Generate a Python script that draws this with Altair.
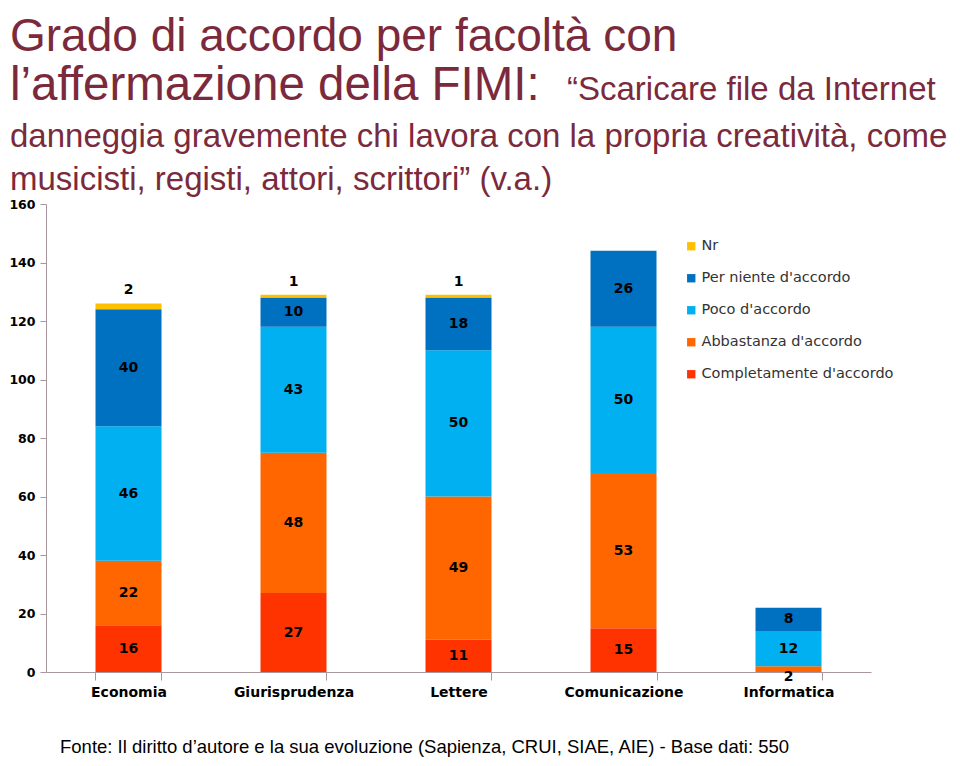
import altair as alt
import pandas as pd

# ---- data ----
facolta = ["Economia", "Giurisprudenza", "Lettere", "Comunicazione", "Informatica"]
risposte = ["Completamente d'accordo", "Abbastanza d'accordo", "Poco d'accordo",
            "Per niente d'accordo", "Nr"]
completamente = [16, 27, 11, 15, 0]
abbastanza = [22, 48, 49, 53, 2]
poco = [46, 43, 50, 50, 12]
per_niente = [40, 10, 18, 26, 8]
nr = [2, 1, 1, 0, 0]
colori = ["#FF3300", "#FF6600", "#00B0F0", "#0070C0", "#FFC000"]
y_ticks = [0, 20, 40, 60, 80, 100, 120, 140, 160]

titolo_1 = "Grado di accordo per facoltà con"
titolo_2a = "l\u2019affermazione della FIMI:"
titolo_2b = "\u201cScaricare file da Internet"
titolo_3 = "danneggia gravemente chi lavora con la propria creatività, come"
titolo_4 = "musicisti, registi, attori, scrittori\u201d (v.a.)"
fonte = "Fonte: Il diritto d\u2019autore e la sua evoluzione (Sapienza, CRUI, SIAE, AIE) - Base dati: 550"

serie = [completamente, abbastanza, poco, per_niente, nr]
rows = []
for i, f in enumerate(facolta):
    for k, r in enumerate(risposte):
        rows.append({"facolta": f, "risposta": r, "valore": serie[k][i], "ordine": k})
df = pd.DataFrame(rows)

legend_order = risposte[::-1]
legend_colors = colori[::-1]

TITLE_COLOR = "#7B2A3C"
AXIS_COLOR = "#A8979F"
TFONT = "Liberation Sans"
LABEL_FONT = "DejaVu Sans"

x_scale = alt.Scale(paddingInner=0.6, paddingOuter=0.3)
y_scale = alt.Scale(domain=[0, 160], nice=False)

x_enc = alt.X("facolta:N", sort=facolta, scale=x_scale,
              axis=alt.Axis(title=None, labelAngle=0, tickBand="extent",
                            domainColor=AXIS_COLOR, tickColor=AXIS_COLOR,
                            tickSize=8, labelPadding=5, labelFont=LABEL_FONT,
                            labelFontSize=14, labelFontWeight="bold",
                            labelColor="#000000"))

bars = alt.Chart(df).mark_bar(strokeWidth=0).encode(
    x=x_enc,
    y=alt.Y("valore:Q", stack="zero", scale=y_scale,
            axis=alt.Axis(values=y_ticks, title=None, grid=False,
                          domainColor=AXIS_COLOR, tickColor=AXIS_COLOR,
                          tickSize=6, labelPadding=5, labelFont=LABEL_FONT,
                          labelFontSize=12.5, labelFontWeight="bold",
                          labelColor="#000000")),
    color=alt.Color("risposta:N",
                    scale=alt.Scale(domain=legend_order, range=legend_colors),
                    legend=alt.Legend(title=None, orient="none", direction="vertical",
                                      legendX=638, legendY=35, symbolType="square",
                                      symbolSize=70, symbolStrokeWidth=0,
                                      labelFont=LABEL_FONT, labelFontSize=14.5,
                                      labelColor="#333333", rowPadding=17,
                                      labelOffset=3, labelLimit=400)),
    order=alt.Order("ordine:Q"),
)

stacked = alt.Chart(df).transform_filter("datum.valore > 0").transform_stack(
    stack="valore", groupby=["facolta"], sort=[alt.SortField("ordine")], as_=["y0", "y1"]
)

labels_main = stacked.transform_filter("datum.risposta != 'Nr'").transform_calculate(
    mid="datum.valore < 4 ? datum.y0 - 1.6 : (datum.y0 + datum.y1) / 2"
).mark_text(font=LABEL_FONT, fontSize=14, fontWeight="bold", color="#000000",
            baseline="middle").encode(
    x=alt.X("facolta:N", sort=facolta, scale=x_scale, title=None),
    y=alt.Y("mid:Q", scale=y_scale, title=None),
    text="valore:Q",
)

labels_nr = stacked.transform_filter("datum.risposta == 'Nr'").mark_text(
    font=LABEL_FONT, fontSize=14, fontWeight="bold", color="#000000",
    baseline="bottom", dy=-6).encode(
    x=alt.X("facolta:N", sort=facolta, scale=x_scale, title=None),
    y=alt.Y("y1:Q", scale=y_scale, title=None),
    text="valore:Q",
)


def testo(s, x, y, size, font=TFONT, color=TITLE_COLOR):
    return alt.Chart(pd.DataFrame({"t": [s]})).mark_text(
        align="left", baseline="alphabetic", fontSize=size, font=font, color=color
    ).encode(text="t:N", x=alt.value(x), y=alt.value(y))


titles = (testo(titolo_1, -36, -153, 46)
          + testo(titolo_2a, -36, -104, 47.5)
          + testo(titolo_2b, 521, -104, 33)
          + testo(titolo_3, -36, -57, 33)
          + testo(titolo_4, -36, -14, 33)
          + testo(fonte, 14, 549, 18.5, color="#000000"))

chart = alt.layer(bars, labels_main, labels_nr, titles).properties(
    width=825, height=468,
    autosize=alt.AutoSizeParams(type="none"),
    padding={"left": 38, "top": 196, "right": 80, "bottom": 86},
).configure_view(stroke=None)

chart.save("out.html", embed_options={"renderer": "svg", "actions": False})
